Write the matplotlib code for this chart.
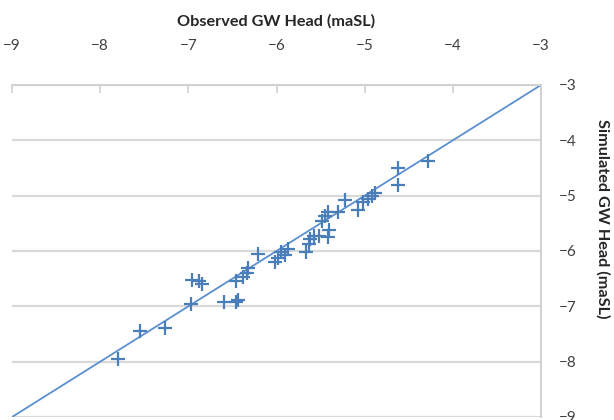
import matplotlib
matplotlib.use("Agg")
import matplotlib.pyplot as plt
import numpy as np

# observed vs simulated groundwater head (maSL)
observed = [-7.80, -7.55, -7.27, -6.97, -6.96, -6.88, -6.85, -6.60, -6.46, -6.44,
            -6.46, -6.38, -6.34, -6.32, -6.21, -6.02, -5.98, -5.95, -5.90, -5.87,
            -5.66, -5.63, -5.62, -5.52, -5.42, -5.40, -5.48, -5.45, -5.42, -5.30,
            -5.22, -5.08, -5.02, -4.96, -4.92, -4.88, -4.62, -4.62, -4.28, -5.58]
simulated = [-7.95, -7.45, -7.40, -6.95, -6.52, -6.55, -6.60, -6.92, -6.93, -6.88,
             -6.55, -6.47, -6.40, -6.30, -6.06, -6.20, -6.12, -6.02, -6.08, -5.97,
             -6.02, -5.88, -5.78, -5.72, -5.75, -5.62, -5.46, -5.36, -5.30, -5.30,
             -5.08, -5.26, -5.12, -5.06, -5.00, -4.96, -4.50, -4.80, -4.38, -5.72]
one_to_one = [-9, -3]
ticks = [-9, -8, -7, -6, -5, -4, -3]

plt.rcParams['font.family'] = ['Lato', 'DejaVu Sans']

fig = plt.figure(figsize=(6.14, 4.2), dpi=100)
ax = fig.add_axes([12 / 614, 3 / 420, 529 / 614, 332 / 420])

ax.plot(one_to_one, one_to_one, color='#5b8fd0', linewidth=1.3, zorder=2)
ax.scatter(observed, simulated, marker='+', s=110, color='#4a7ebb',
           linewidths=1.6, zorder=3)

ax.set_xlim(-9, -3)
ax.set_ylim(-9, -3)
ax.set_xticks(ticks)
ax.set_yticks(ticks)

ax.xaxis.tick_top()
ax.xaxis.set_label_position('top')
ax.yaxis.tick_right()

ax.grid(axis='y', color='#d9d9d9', linewidth=1.6, zorder=0)
ax.set_axisbelow(True)

for side in ['left', 'bottom']:
    ax.spines[side].set_visible(False)
for side in ['top', 'right']:
    ax.spines[side].set_color('#d0d0d0')
    ax.spines[side].set_linewidth(1.4)

ax.tick_params(axis='x', direction='in', length=6, width=1.2, color='#d0d0d0',
               labelsize=11, labelcolor='#404040', pad=23)
ax.tick_params(axis='y', length=0, labelsize=11, labelcolor='#404040', pad=13)

ax.set_xlabel('Observed GW Head (maSL)', fontsize=11.7, fontweight='bold',
              color='#262626', labelpad=10)
# y title sits higher than the axis middle in the original
fig.text(603 / 614, 1 - 219 / 420, 'Simulated GW Head (maSL)', fontsize=11.7,
         fontweight='bold', color='#262626', rotation=-90,
         ha='center', va='center')

fig.savefig('out.png', dpi=100)
